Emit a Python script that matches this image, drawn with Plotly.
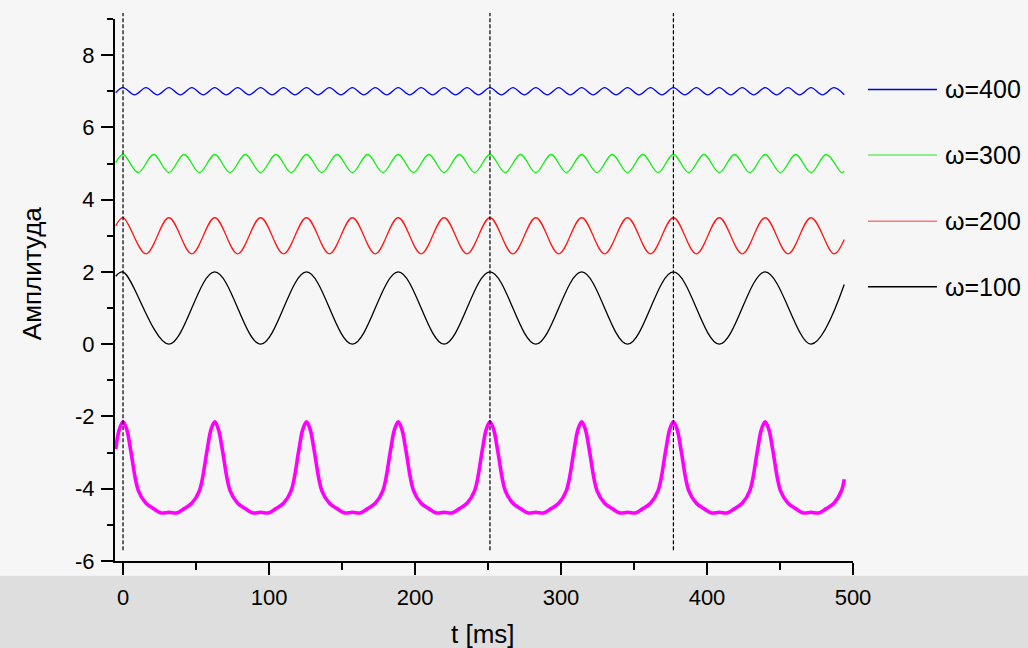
import plotly.graph_objects as go

# ---------------- data ----------------
# omega = 100 (black): extrema of the wave
t_w100 = [-5, 0, 31.42, 62.83, 94.25, 125.66, 157.08, 188.50, 219.91, 251.33,
          282.74, 314.16, 345.58, 376.99, 408.41, 439.82, 471.24, 494]
y_w100 = [1.88, 2, 0, 2, 0, 2, 0, 2, 0, 2,
          0, 2, 0, 2, 0, 2, 0, 1.65]

# omega = 200 (red)
t_w200 = [-5, 0, 15.71, 31.42, 47.12, 62.83, 78.54, 94.25, 109.96, 125.66,
          141.37, 157.08, 172.79, 188.50, 204.20, 219.91, 235.62, 251.33, 267.04,
          282.74, 298.45, 314.16, 329.87, 345.58, 361.28, 376.99, 392.70, 408.41,
          424.12, 439.82, 455.53, 471.24, 486.95, 494]
y_w200 = [3.27, 3.5, 2.5, 3.5, 2.5, 3.5, 2.5, 3.5, 2.5, 3.5,
          2.5, 3.5, 2.5, 3.5, 2.5, 3.5, 2.5, 3.5, 2.5,
          3.5, 2.5, 3.5, 2.5, 3.5, 2.5, 3.5, 2.5, 3.5,
          2.5, 3.5, 2.5, 3.5, 2.5, 2.9]

# omega = 300 (green)
t_w300 = [-5, 0, 10.47, 20.94, 31.42, 41.89, 52.36, 62.83, 73.30, 83.78,
          94.25, 104.72, 115.19, 125.66, 136.14, 146.61, 157.08, 167.55, 178.02,
          188.50, 198.97, 209.44, 219.91, 230.38, 240.86, 251.33, 261.80, 272.27,
          282.74, 293.22, 303.69, 314.16, 324.63, 335.10, 345.58, 356.05, 366.52,
          376.99, 387.46, 397.94, 408.41, 418.88, 429.35, 439.82, 450.29, 460.77,
          471.24, 481.71, 492.18, 494]
y_w300 = [5.02, 5.25, 4.75, 5.25, 4.75, 5.25, 4.75, 5.25, 4.75, 5.25,
          4.75, 5.25, 4.75, 5.25, 4.75, 5.25, 4.75, 5.25, 4.75,
          5.25, 4.75, 5.25, 4.75, 5.25, 4.75, 5.25, 4.75, 5.25,
          4.75, 5.25, 4.75, 5.25, 4.75, 5.25, 4.75, 5.25, 4.75,
          5.25, 4.75, 5.25, 4.75, 5.25, 4.75, 5.25, 4.75, 5.25,
          4.75, 5.25, 4.75, 4.79]

# omega = 400 (blue)
t_w400 = [-5, 0, 7.85, 15.71, 23.56, 31.42, 39.27, 47.12, 54.98,
          62.83, 70.69, 78.54, 86.39, 94.25, 102.10, 109.96, 117.81,
          125.66, 133.52, 141.37, 149.23, 157.08, 164.93, 172.79, 180.64,
          188.50, 196.35, 204.20, 212.06, 219.91, 227.77, 235.62, 243.47,
          251.33, 259.18, 267.04, 274.89, 282.74, 290.60, 298.45, 306.31,
          314.16, 322.01, 329.87, 337.72, 345.58, 353.43, 361.28, 369.14,
          376.99, 384.85, 392.70, 400.55, 408.41, 416.26, 424.12, 431.97,
          439.82, 447.68, 455.53, 463.39, 471.24, 479.09, 486.95, 494]
y_w400 = [6.96, 7.1, 6.9, 7.1, 6.9, 7.1, 6.9, 7.1, 6.9,
          7.1, 6.9, 7.1, 6.9, 7.1, 6.9, 7.1, 6.9,
          7.1, 6.9, 7.1, 6.9, 7.1, 6.9, 7.1, 6.9,
          7.1, 6.9, 7.1, 6.9, 7.1, 6.9, 7.1, 6.9,
          7.1, 6.9, 7.1, 6.9, 7.1, 6.9, 7.1, 6.9,
          7.1, 6.9, 7.1, 6.9, 7.1, 6.9, 7.1, 6.9,
          7.1, 6.9, 7.1, 6.9, 7.1, 6.9, 7.1, 6.9,
          7.1, 6.9, 7.1, 6.9, 7.1, 6.9, 7.1, 6.905]

# sum signal (magenta)
t_sum = [-5, -2.62,
         0, 2.62, 5.24, 10.47, 15.71, 20.94, 26.18, 31.42, 36.65, 41.89, 47.12, 52.36, 57.60, 60.21,
         62.83, 65.45, 68.07, 73.30, 78.54, 83.77, 89.01, 94.25, 99.48, 104.72, 109.95, 115.19, 120.43, 123.04,
         125.66, 128.28, 130.90, 136.13, 141.37, 146.60, 151.84, 157.08, 162.31, 167.55, 172.78, 178.02, 183.26, 185.87,
         188.50, 191.12, 193.74, 198.97, 204.21, 209.44, 214.68, 219.92, 225.15, 230.39, 235.62, 240.86, 246.10, 248.71,
         251.33, 253.95, 256.57, 261.80, 267.04, 272.27, 277.51, 282.75, 287.98, 293.22, 298.45, 303.69, 308.93, 311.54,
         314.16, 316.78, 319.40, 324.63, 329.87, 335.10, 340.34, 345.58, 350.81, 356.05, 361.28, 366.52, 371.76, 374.37,
         376.99, 379.61, 382.23, 387.46, 392.70, 397.93, 403.17, 408.41, 413.64, 418.88, 424.11, 429.35, 434.59, 437.20,
         439.82, 442.44, 445.06, 450.29, 455.53, 460.76, 466.00, 471.24, 476.47, 481.71, 486.94, 492.18, 494.0]
y_sum = [-2.9, -2.37,
         -2.15, -2.37, -2.93, -4.05, -4.40, -4.55, -4.67, -4.65, -4.67, -4.55, -4.40, -4.05, -2.93, -2.37,
         -2.15, -2.37, -2.93, -4.05, -4.40, -4.55, -4.67, -4.65, -4.67, -4.55, -4.40, -4.05, -2.93, -2.37,
         -2.15, -2.37, -2.93, -4.05, -4.40, -4.55, -4.67, -4.65, -4.67, -4.55, -4.40, -4.05, -2.93, -2.37,
         -2.15, -2.37, -2.93, -4.05, -4.40, -4.55, -4.67, -4.65, -4.67, -4.55, -4.40, -4.05, -2.93, -2.37,
         -2.15, -2.37, -2.93, -4.05, -4.40, -4.55, -4.67, -4.65, -4.67, -4.55, -4.40, -4.05, -2.93, -2.37,
         -2.15, -2.37, -2.93, -4.05, -4.40, -4.55, -4.67, -4.65, -4.67, -4.55, -4.40, -4.05, -2.93, -2.37,
         -2.15, -2.37, -2.93, -4.05, -4.40, -4.55, -4.67, -4.65, -4.67, -4.55, -4.40, -4.05, -2.93, -2.37,
         -2.15, -2.37, -2.93, -4.05, -4.40, -4.55, -4.67, -4.65, -4.67, -4.55, -4.40, -4.05, -3.74]

marker_times = [0, 251.33, 376.99]

legend_labels = ["ω=400", "ω=300", "ω=200", "ω=100"]
legend_colors = ["#0000dd", "#66ee66", "#ff7777", "#000000"]

x_ticks = [0, 100, 200, 300, 400, 500]
x_tick_text = ["0", "100", "200", "300", "400", "500"]
y_ticks = [-6, -4, -2, 0, 2, 4, 6, 8]
y_tick_text = ["-6", "-4", "-2", "0", "2", "4", "6", "8"]

FONT = "Liberation Sans, Arial, sans-serif"

# ---------------- figure ----------------
fig = go.Figure()

series = [
    (t_w400, y_w400, "#0000ff", 1.3),
    (t_w300, y_w300, "#11ee11", 1.3),
    (t_w200, y_w200, "#ff1a1a", 1.3),
    (t_w100, y_w100, "#000000", 1.3),
    (t_sum, y_sum, "#ff00ff", 3.6),
]
for tx, ty, col, w in series:
    fig.add_trace(go.Scatter(x=tx, y=ty, mode="lines",
                             line=dict(color=col, width=w, shape="spline", smoothing=1),
                             showlegend=False, hoverinfo="skip"))

shapes = []
# bottom background band
shapes.append(dict(type="rect", xref="paper", yref="paper", x0=-0.2, x1=1.3,
                   y0=-0.2, y1=-0.027, fillcolor="#dedede", line=dict(width=0),
                   layer="below"))
# dashed vertical markers
for mt in marker_times:
    shapes.append(dict(type="line", xref="x", yref="paper", x0=mt, x1=mt,
                       y0=0.02, y1=1.011, line=dict(color="#000000", width=1.2, dash="4px,2px"),
                       layer="above"))

# manual legend
leg_y = [0.870, 0.749, 0.627, 0.506]
annotations = []
for lab, col, ly in zip(legend_labels, legend_colors, leg_y):
    shapes.append(dict(type="line", xref="paper", yref="paper", x0=1.0203, x1=1.1138,
                       y0=ly, y1=ly, line=dict(color=col, width=1.5)))
    annotations.append(dict(text=lab, xref="paper", yref="paper", x=1.1220, y=ly,
                            xanchor="left", yanchor="middle", showarrow=False,
                            font=dict(family=FONT, size=25, color="#000000")))

annotations.append(dict(text="Амплитуда", xref="paper", yref="paper", x=-0.1125, y=0.531,
                        textangle=-90, xanchor="center", yanchor="middle", showarrow=False,
                        font=dict(family=FONT, size=26, color="#000000")))
annotations.append(dict(text="t [ms]", xref="paper", yref="paper", x=0.4986, y=-0.135,
                        xanchor="center", yanchor="middle", showarrow=False,
                        font=dict(family=FONT, size=26, color="#000000")))

axis_common = dict(showgrid=False, zeroline=False, showline=True, linecolor="#000000",
                   linewidth=2, ticks="outside", ticklen=12, tickwidth=2, tickcolor="#000000",
                   tickfont=dict(family=FONT, size=22, color="#000000"), mirror=False)

fig.update_layout(
    width=1028, height=648,
    margin=dict(l=115, r=175, t=19, b=87),
    paper_bgcolor="#f6f6f6",
    plot_bgcolor="rgba(0,0,0,0)",
    shapes=shapes,
    annotations=annotations,
    xaxis=dict(range=[-5.5, 500], tickvals=x_ticks, ticktext=x_tick_text, ticklabelstandoff=4,
               minor=dict(dtick=50, tick0=0, ticks="outside", ticklen=7, tickwidth=2,
                          tickcolor="#000000"),
               **axis_common),
    yaxis=dict(range=[-6, 9], tickvals=y_ticks, ticktext=y_tick_text, ticklabelstandoff=2,
               minor=dict(dtick=1, tick0=0, ticks="outside", ticklen=6, tickwidth=2,
                          tickcolor="#000000"),
               **axis_common),
)

fig.write_html("out.html")
